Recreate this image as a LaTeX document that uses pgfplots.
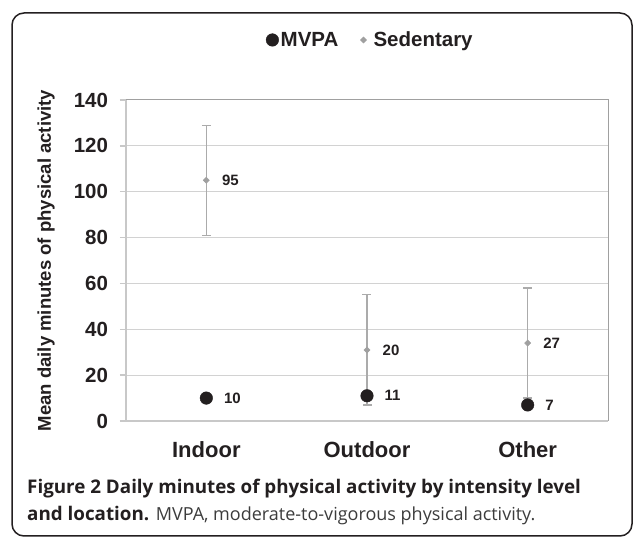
\documentclass[border=0pt]{standalone}
\usepackage{fontspec}
\setmainfont{Liberation Sans}
\newfontfamily\capfont{Open Sans}
\usepackage{pgfplots}
\usepackage{pgfplotstable}
\pgfplotsset{compat=1.18}
\definecolor{ink}{HTML}{231F20}
\definecolor{sed}{HTML}{A0A0A0}
\definecolor{errc}{HTML}{ABABAB}
\definecolor{gridc}{HTML}{D2D2D2}
\definecolor{axc}{HTML}{C8C8C8}
\definecolor{borderc}{HTML}{A0A0A0}
\definecolor{capgray}{HTML}{3C3C3C}

\pgfplotsset{
  mvpalegend/.style={legend image code/.code={\draw[##1] plot coordinates {(0pt,0pt)};}},
  sedlegend/.style={legend image code/.code={\draw[##1] plot coordinates {(0pt,0pt)}; \path[draw=none] (-3pt,0pt) (8pt,0pt);}},
}

\pgfplotstableread{
x y e lab
0 105 24 95
1 31 24 20
2 34 24 27
}\sedtable
\pgfplotstableread{
x y lab
0 10 10
1 11 11
2 7 7
}\mvpatable

\begin{document}
\begin{tikzpicture}[x=1pt,y=1pt]
\useasboundingbox (0,0) rectangle (635,541);
\draw[ink, line width=1.5pt, rounded corners=12pt] (12,5) rectangle (632,528);
\begin{axis}[
  at={(126pt,120pt)}, anchor=south west,
  scale only axis, width=482pt, height=321pt,
  xmin=-0.5, xmax=2.5, ymin=0, ymax=140,
  xtick={0,1,2}, xticklabels={Indoor,Outdoor,Other},
  ytick={0,20,...,140}, yticklabels={0,20,40,60,80,100,120,140},
  ymajorgrids, major grid style={line width=1pt, gridc},
  axis line style={draw=none},
  tick align=outside, major tick length=6pt,
  ytick pos=left,
  tick style={line width=1.5pt, axc},
  x tick style={draw=none},
  yticklabel style={font=\fontsize{20.5}{20.5}\selectfont\bfseries, text=ink, anchor=east, xshift=-8.5pt},
  xticklabel style={font=\fontsize{22}{22}\selectfont\bfseries, text=ink, anchor=base, yshift=-31pt},
  ylabel={Mean daily minutes of physical activity},
  ylabel style={at={(axis description cs:-0.166,0.5)}, anchor=center, font=\fontsize{18.5}{18.5}\selectfont\bfseries, text=ink},
  legend style={at={(0.507,1.187)}, anchor=center, draw=none, fill=none,
    legend columns=2, font=\fontsize{20.5}{20.5}\selectfont\bfseries, text=ink,
    /tikz/every even column/.append style={column sep=20pt},
    nodes={inner xsep=2pt, inner ysep=0pt}},
  reverse legend,
  clip=false,
]
\addplot[only marks, mark=square*, mark size=2.2pt, mark options={rotate=45}, color=sed, sedlegend,
  nodes near coords, point meta=explicit symbolic,
  every node near coord/.append style={font=\fontsize{15}{15}\selectfont\bfseries, text=ink, anchor=west, inner sep=0pt, xshift=15.5pt, rotate=0},
  error bars/.cd, y dir=both, y explicit,
  error bar style={line width=1.2pt, color=errc},
  error mark options={rotate=90, mark size=4.5pt, line width=1.2pt, color=errc}]
  table[x=x, y=y, y error=e, meta=lab] {\sedtable};
\addlegendentry{Sedentary}
\addplot[only marks, mark=*, mark size=6.3pt, color=ink, mvpalegend,
  nodes near coords, point meta=explicit symbolic,
  every node near coord/.append style={font=\fontsize{15}{15}\selectfont\bfseries, text=ink, anchor=west, inner sep=0pt, xshift=17.5pt}]
  table[x=x, y=y, meta=lab] {\mvpatable};
\addlegendentry{MVPA}
\draw[axc, line width=2pt] (rel axis cs:0,0) -- (rel axis cs:0,1);
\draw[axc, line width=2.5pt] ([xshift=-6pt]rel axis cs:0,0) -- (rel axis cs:1,0);
\draw[borderc, line width=1pt] (rel axis cs:0,1) -- (rel axis cs:1,1) -- (rel axis cs:1,0);
\end{axis}
\node[anchor=base west, inner sep=0pt, font=\capfont\fontsize{18.8}{20}\selectfont\bfseries, text=ink] at (27,47) {Figure 2 Daily minutes of physical activity by intensity level};
\node[anchor=base west, inner sep=0pt, font=\capfont\fontsize{18.8}{20}\selectfont, text=ink] at (27,20) {\textbf{and location.} {\fontsize{18}{20}\selectfont\color{capgray}MVPA, moderate-to-vigorous physical activity.}};
\end{tikzpicture}
\end{document}
